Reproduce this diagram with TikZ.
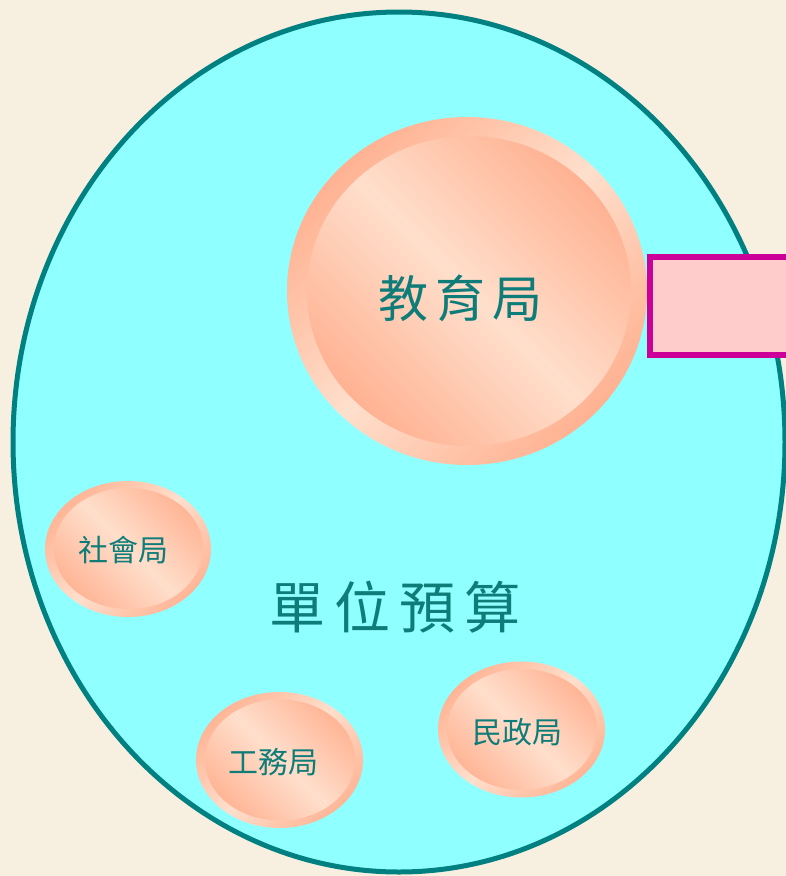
\documentclass[tikz,border=0pt]{standalone}
\usepackage{fontspec}
\newfontfamily\cjk{Noto Sans CJK TC}
\definecolor{bgbeige}{HTML}{F7F0E1}
\definecolor{skycyan}{HTML}{8FFFFF}
\definecolor{rimteal}{HTML}{008080}
\definecolor{labteal}{HTML}{0E7C78}
\definecolor{peachdark}{HTML}{FFAA88}
\definecolor{peachlight}{HTML}{FFDFCC}
\definecolor{boxpink}{HTML}{FFCCCC}
\definecolor{boxmag}{HTML}{CC0099}
% #1,#2 centre, #3,#4 radii, #5 angle of gradient axis
\newcommand{\peachdisc}[5]{%
  \begin{scope}
    \clip (#1,#2) ellipse [x radius=#3, y radius=#4];
    \begin{scope}[transform canvas={rotate around={#5:(#1,#2)}}]
      \shade[top color=peachdark, bottom color=peachlight] ({#1-1.15*#3},{#2-1.15*#3}) rectangle ({#1+1.15*#3},{#2});
      \shade[top color=peachlight, bottom color=peachdark] ({#1-1.15*#3},{#2}) rectangle ({#1+1.15*#3},{#2+1.15*#3});
    \end{scope}
  \end{scope}}
\tikzset{
  lab/.style={text=labteal, font=\cjk, inner sep=0pt}
}
\begin{document}
\begin{tikzpicture}[x=1pt,y=-1pt]
\useasboundingbox (0,0) rectangle (786,876);
\clip (0,0) rectangle (786,876);
\fill[bgbeige] (0,0) rectangle (786,876);
% big budget ellipse
\draw[rimteal, line width=5, fill=skycyan] (399,442) ellipse [x radius=386, y radius=430];
% education bureau
\peachdisc{467}{291}{180}{174}{45}
\peachdisc{469}{291}{162}{155}{-45}
% side box
\draw[boxmag, line width=6, fill=boxpink] (650,257) rectangle (900,355);
% small bureaus
\peachdisc{128}{549}{83}{68}{45}
\peachdisc{128.5}{548.5}{74.5}{60.5}{-45}
\peachdisc{279.5}{760}{83.5}{68}{45}
\peachdisc{280}{760}{75}{60.5}{-45}
\peachdisc{521.5}{729.5}{83.5}{68}{45}
\peachdisc{522}{729.5}{75}{60.5}{-45}
% labels
\node[lab, font=\cjk\fontsize{50}{50}\selectfont] (edu) at (460,298) {教\hspace{7pt}育\hspace{7pt}局};
\node[lab, font=\cjk\fontsize{56}{56}\selectfont] (unit) at (395,607) {單\hspace{9pt}位\hspace{9pt}預\hspace{9pt}算};
\node[lab, font=\cjk\fontsize{30}{30}\selectfont] (soc) at (123,550) {社會局};
\node[lab, font=\cjk\fontsize{30}{30}\selectfont] (pub) at (273,762) {工務局};
\node[lab, font=\cjk\fontsize{30}{30}\selectfont] (civ) at (517,732) {民政局};
\end{tikzpicture}
\end{document}
